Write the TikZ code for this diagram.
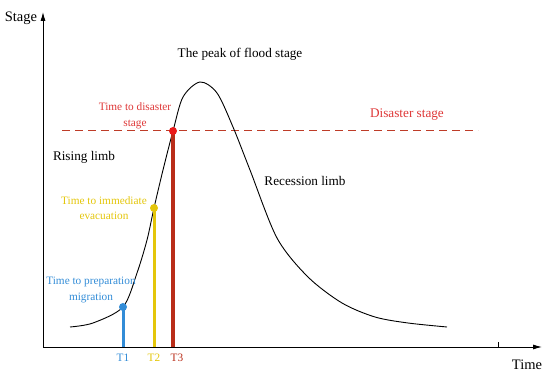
\documentclass[tikz,border=0pt]{standalone}
\usepackage{fontspec}
\setmainfont{Liberation Serif}
\usetikzlibrary{arrows.meta}
\definecolor{tblue}{RGB}{50,140,215}
\definecolor{tyellow}{RGB}{228,198,10}
\definecolor{tred}{RGB}{222,55,55}
\definecolor{tdark}{RGB}{185,45,25}
\definecolor{tdash}{RGB}{190,60,40}
\definecolor{tdot}{RGB}{235,25,25}
\tikzset{
  big/.style={font=\fontsize{14.5}{16}\selectfont},
  lab/.style={font=\fontsize{13.2}{15}\selectfont},
  small/.style={font=\fontsize{11.3}{15.5}\selectfont,align=center,inner sep=0pt},
  bar/.style={line width=3pt},
}
\begin{document}
\begin{tikzpicture}[x=1pt,y=1pt,line cap=butt]
\useasboundingbox (0,0) rectangle (550,375);
\coordinate (O) at (43,28); \coordinate (YT) at (43,363); \coordinate (XT) at (542,28);
\coordinate (P1) at (123,68); \coordinate (P2) at (154,167); \coordinate (P3) at (173,244);
\coordinate (B1) at (123,28); \coordinate (B2) at (154,28); \coordinate (B3) at (173,28);
\coordinate (DL) at (62,245); \coordinate (DR) at (478,245);
\draw[line width=0.8pt,-{Latex[length=9pt,width=5pt]}] (O)--(YT);
\draw[line width=0.8pt,-{Latex[length=9pt,width=5pt]}] (O)--(XT);
\draw[line width=0.6pt] (498,28)--(498,33);
\draw[tdash,line width=0.9pt,dash pattern=on 8pt off 5pt] (DL)--(DR);
\draw[line width=0.9pt] plot[smooth,tension=0.5] coordinates {(70,48) (93,52) (P1) (137,102) (147,135) (P2) (163,205) (P3) (183,278) (200,293) (217,282) (233,248) (250,205) (277,137) (308,98) (342,72) (375,58) (408,52) (447,48)};
\draw[bar,tblue] (B1)--(P1); \draw[bar,tyellow] (B2)--(P2); \draw[bar,tdark,line width=3.5pt] (B3)--(P3);
\fill[tblue] (P1) circle (4pt); \fill[tyellow] (P2) circle (4pt); \fill[tdot] (P3) circle (4pt);
\node[big] (stage) at (21,357){Stage}; \node[big] (time) at (527,10){Time};
\node[lab] (peak) at (240,321){The peak of flood stage};
\node[lab] (rise) at (84,218){Rising limb}; \node[lab] (rec) at (305,194){Recession limb};
\node[lab,tred] (dis) at (407,260){Disaster stage};
\node[small,tred] (l3) at (135,259){Time to disaster\\stage};
\node[small,tyellow] (l2) at (104,167){Time to immediate\\evacuation};
\node[small,tblue] (l1) at (91,85){Time to preparation\\migration};
\node[small,tblue] (t1) at (123,17){T1}; \node[small,tyellow] (t2) at (154,17){T2}; \node[small,tdark] (t3) at (177,17){T3};
\end{tikzpicture}
\end{document}
